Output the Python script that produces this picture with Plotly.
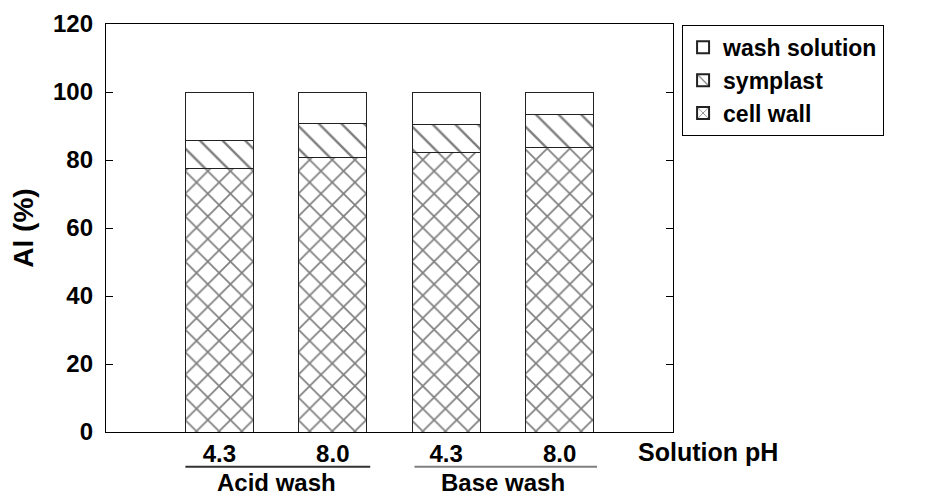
import plotly.graph_objects as go

# ---- data ----
positions = [0, 1, 2, 3]
ph_labels = ["4.3", "8.0", "4.3", "8.0"]
cell_wall = [77.6, 80.8, 82.1, 83.6]
symplast = [8.2, 9.9, 8.3, 9.9]
wash_solution = [14.2, 9.3, 9.6, 6.5]
groups = ["Acid wash", "Base wash"]
group_centers = [0.5, 2.5]
group_spans = [(-0.3, 1.33), (1.72, 3.33)]
y_ticks = [0, 20, 40, 60, 80, 100, 120]

FONT = "Arial, Liberation Sans, sans-serif"
BOLD = dict(family=FONT, color="black", weight="bold")

fig = go.Figure()
fig.add_trace(go.Bar(
    x=positions, y=cell_wall, name="cell wall", width=0.6,
    marker=dict(color="white", line=dict(color="#222222", width=1),
                pattern=dict(shape="x", fgcolor="black", bgcolor="white", size=16, solidity=0.2))))
fig.add_trace(go.Bar(
    x=positions, y=symplast, name="symplast", width=0.6,
    marker=dict(color="white", line=dict(color="#222222", width=1),
                pattern=dict(shape="\\", fgcolor="black", bgcolor="white", size=16, solidity=0.15))))
fig.add_trace(go.Bar(
    x=positions, y=wash_solution, name="wash solution", width=0.6,
    marker=dict(color="white", line=dict(color="#222222", width=1))))

# the page body adds an 8px offset; margins compensate for it
fig.update_layout(
    barmode="stack",
    width=943, height=497,
    margin=dict(l=98, r=278, t=16, b=73, autoexpand=False),
    paper_bgcolor="white", plot_bgcolor="white",
    font=dict(size=24, **BOLD),
    showlegend=True,
    legend=dict(x=1.016, y=0.998, xanchor="left", yanchor="top",
                bordercolor="black", borderwidth=1, bgcolor="white",
                font=dict(size=23, **BOLD), tracegroupgap=0,
                traceorder="reversed", itemsizing="constant"),
)

fig.update_xaxes(
    range=[-1, 4], tickmode="array", tickvals=positions, ticktext=ph_labels,
    showline=True, linecolor="black", linewidth=1.3, mirror=True,
    ticks="", showgrid=False, zeroline=False, automargin=False,
    tickfont=dict(size=24, **BOLD),
)
fig.update_yaxes(
    range=[0, 120], tickmode="array", tickvals=y_ticks,
    showline=True, linecolor="black", linewidth=1.3, mirror="ticks",
    ticks="inside", ticklen=7, tickcolor="black", tickwidth=1,
    ticklabelstandoff=7,
    showgrid=False, zeroline=False, automargin=False,
    tickfont=dict(size=24, **BOLD),
    title=dict(text="Al (%)", font=dict(size=28, **BOLD), standoff=12),
)

# group lines and labels under the x axis
line_colors = ["#333333", "#808080"]
for (x0, x1), c in zip(group_spans, line_colors):
    fig.add_shape(type="line", xref="x", yref="paper", x0=x0, x1=x1,
                  y0=-0.085, y1=-0.085, line=dict(color=c, width=2))
for name, xc in zip(groups, group_centers):
    fig.add_annotation(text=name, xref="x", yref="paper", x=xc, y=-0.123,
                       showarrow=False, xanchor="center", yanchor="middle",
                       font=dict(size=24, **BOLD))
fig.add_annotation(text="Solution pH", xref="paper", yref="paper", x=1.062, y=-0.05,
                   showarrow=False, xanchor="center", yanchor="middle",
                   font=dict(size=25, **BOLD))

fig.write_html("out.html")
